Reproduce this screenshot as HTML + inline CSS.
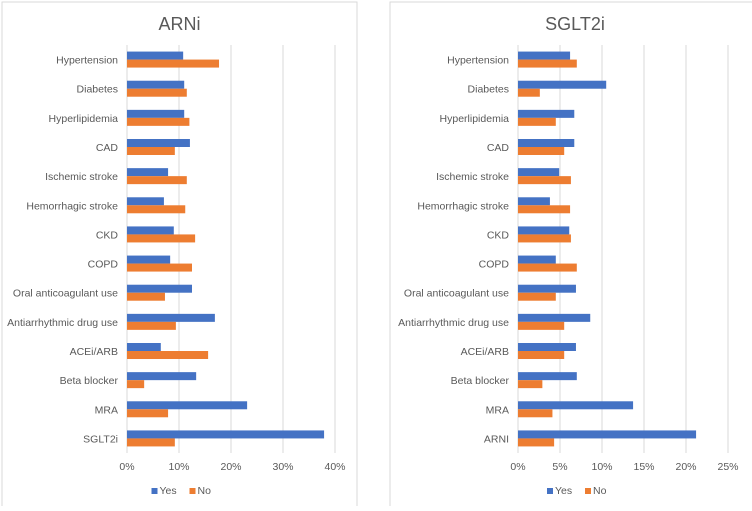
<!DOCTYPE html>
<html><head><meta charset="utf-8"><style>
body{margin:0;background:#fff;font-family:"Liberation Sans",sans-serif;}
svg text{font-family:"Liberation Sans",sans-serif;fill:#595959;}
</style></head><body>
<svg id="s" width="752" height="506" xmlns="http://www.w3.org/2000/svg"></svg>
<script>
const catsA=["Hypertension","Diabetes","Hyperlipidemia","CAD","Ischemic stroke","Hemorrhagic stroke","CKD","COPD","Oral anticoagulant use","Antiarrhythmic drug use","ACEi/ARB","Beta blocker","MRA","SGLT2i"];
const yesA=[10.8,11.0,11.0,12.1,7.9,7.1,9.0,8.3,12.5,16.9,6.5,13.3,23.1,37.9];
const noA=[17.7,11.5,12.0,9.2,11.5,11.2,13.1,12.5,7.3,9.4,15.6,3.3,7.9,9.2];
const ticksA=[0,10,20,30,40];
const catsB=["Hypertension","Diabetes","Hyperlipidemia","CAD","Ischemic stroke","Hemorrhagic stroke","CKD","COPD","Oral anticoagulant use","Antiarrhythmic drug use","ACEi/ARB","Beta blocker","MRA","ARNI"];
const yesB=[6.2,10.5,6.7,6.7,4.9,3.8,6.1,4.5,6.9,8.6,6.9,7.0,13.7,21.2];
const noB=[7.0,2.6,4.5,5.5,6.3,6.2,6.3,7.0,4.5,5.5,5.5,2.9,4.1,4.3];
const ticksB=[0,5,10,15,20,25];
const svg=document.getElementById('s');
const NS="http://www.w3.org/2000/svg";
function mk(t,a,p){const e=document.createElementNS(NS,t);for(const k in a)e.setAttribute(k,a[k]);(p||svg).appendChild(e);return e;}
function panel(o){
 const g=mk('g',{});
 
 
 const r=mk('rect',{x:o.px,y:2,width:o.pw,height:520,fill:'#fff',stroke:'#d9d9d9'},g);
 
 
 const t=mk('text',{x:o.px+o.pw/2,y:30,'font-size':18,'text-anchor':'middle'},g);t.textContent=o.title;
 
 
 const sx=v=>o.x0+v*o.k;
 const top=45,bot=453,band=(bot-top)/o.cats.length;
 o.ticks.forEach(v=>{
  const l=mk('line',{x1:sx(v),x2:sx(v),y1:top,y2:bot,stroke:'#d9d9d9'},g);
  
  
  const tx=mk('text',{x:sx(v),y:470,'font-size':10.5,'text-anchor':'middle'},g);tx.textContent=v+'%';
  
  
 });
 o.cats.forEach((c,i)=>{
  const cy=top+band*(i+0.5);
  const lb=mk('text',{x:o.x0-9,y:cy+4,'font-size':10.5,'text-anchor':'end'},g);lb.textContent=c;
  
  
  const b1=mk('rect',{x:sx(0),y:cy-8,width:sx(o.yes[i])-sx(0),height:8,fill:'#4472c4'},g);
  
  
  const b2=mk('rect',{x:sx(0),y:cy,width:sx(o.no[i])-sx(0),height:8,fill:'#ed7d31'},g);
  
  
 });
 const lx=o.px+o.pw/2-28;
 [['Yes','#4472c4',0],['No','#ed7d31',38]].forEach(([n,c,d])=>{
  const s=mk('rect',{x:lx+d,y:488,width:6,height:6,fill:c},g);
  
  
  const t2=mk('text',{x:lx+d+8,y:494,'font-size':10.5},g);t2.textContent=n;
  
  
 });
}
panel({name:'arni-panel',title:'ARNi',px:2,pw:355,x0:127,k:5.2,cats:catsA,yes:yesA,no:noA,ticks:ticksA});
panel({name:'sglt2i-panel',title:'SGLT2i',px:390,pw:370,x0:518,k:8.4,cats:catsB,yes:yesB,no:noB,ticks:ticksB});
</script>
</body></html>
